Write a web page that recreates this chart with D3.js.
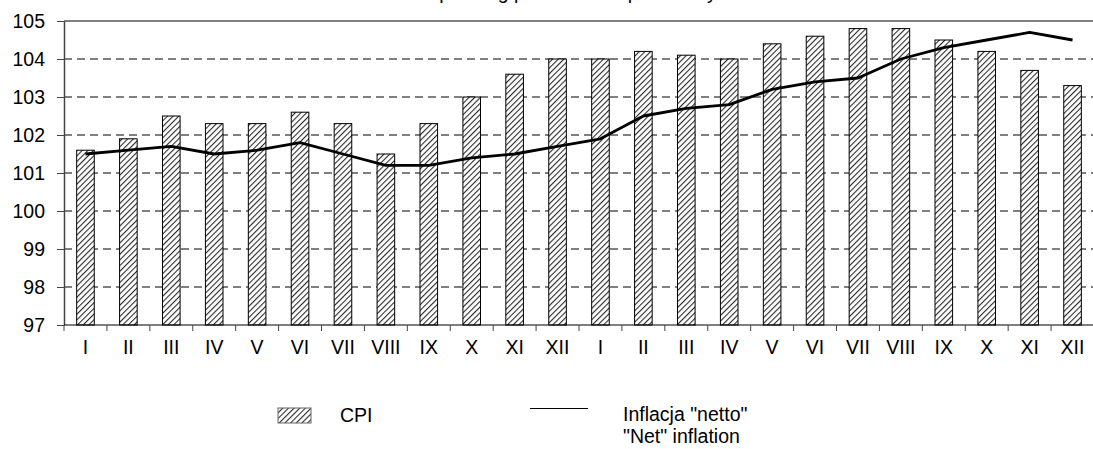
<!DOCTYPE html>
<html>
<head>
<meta charset="utf-8">
<script src="https://cdn.jsdelivr.net/npm/d3@7"></script>
<style>
  html, body { margin: 0; padding: 0; background: #fff; }
  svg { display: block; }
  text { font-family: "Liberation Sans", Arial, sans-serif; fill: #000; }
</style>
</head>
<body>
<svg id="chart" width="1093" height="449"></svg>
<script>
const months = ["I","II","III","IV","V","VI","VII","VIII","IX","X","XI","XII",
                "I","II","III","IV","V","VI","VII","VIII","IX","X","XI","XII"];
const cpi = [101.6, 101.9, 102.5, 102.3, 102.3, 102.6, 102.3, 101.5, 102.3, 103.0, 103.6, 104.0,
             104.0, 104.2, 104.1, 104.0, 104.4, 104.6, 104.8, 104.8, 104.5, 104.2, 103.7, 103.3];
const netInflation = [101.5, 101.6, 101.7, 101.5, 101.6, 101.8, 101.5, 101.2, 101.2, 101.4, 101.5, 101.7,
                      101.9, 102.5, 102.7, 102.8, 103.2, 103.4, 103.5, 104.0, 104.3, 104.5, 104.7, 104.5];
const yTicks = [97, 98, 99, 100, 101, 102, 103, 104, 105];
const titleText = "corresponding period of the previous year = 100";
const legendCPI = "CPI";
const legendNet = ["Inflacja \"netto\"", "\"Net\" inflation"];

const FS = 19.5;
const svg = d3.select("#chart");
const mLeft = 64, mRight = 1094, mTop = 21, mBottom = 325;
const idx = months.map((d, i) => i);

const x = d3.scaleBand().domain(idx).range([mLeft, mRight]).paddingInner(0).paddingOuter(0);
const y = d3.scaleLinear().domain([97, 105]).range([mBottom, mTop]);

// hatch pattern
const defs = svg.append("defs");
const pat = defs.append("pattern")
  .attr("id", "hatch").attr("patternUnits", "userSpaceOnUse")
  .attr("width", 4).attr("height", 4)
  .attr("patternTransform", "rotate(45)");
pat.append("rect").attr("width", 4).attr("height", 4).attr("fill", "#fff");
pat.append("line").attr("x1", 0).attr("y1", 0).attr("x2", 0).attr("y2", 4)
  .attr("stroke", "#2a2a2a").attr("stroke-width", 2.2);

// title (mostly cut off at top, as in the original)
svg.append("text").attr("x", 385).attr("y", -1).attr("font-size", FS).text(titleText);

// gridlines
svg.append("g").selectAll("line").data(yTicks.filter(v => v > 97))
  .join("line")
  .attr("x1", mLeft).attr("x2", mRight)
  .attr("y1", d => y(d)).attr("y2", d => y(d))
  .attr("stroke", "#000").attr("stroke-width", 1)
  .attr("stroke-dasharray", d => d === 105 ? null : "8,5");

// bars
const bw = x.bandwidth() * 0.41;
svg.append("g").selectAll("rect").data(cpi)
  .join("rect")
  .attr("x", (d, i) => x(i) + (x.bandwidth() - bw) / 2)
  .attr("y", d => y(d))
  .attr("width", bw)
  .attr("height", d => y(97) - y(d))
  .attr("fill", "url(#hatch)")
  .attr("stroke", "#000").attr("stroke-width", 1);

// y axis
const yAxis = d3.axisLeft(y).tickValues(yTicks).tickSize(7).tickSizeOuter(0).tickFormat(d3.format("d"));
const gy = svg.append("g").attr("transform", `translate(${mLeft},0)`).call(yAxis);
gy.select(".domain").attr("stroke", "#444").attr("stroke-width", 1.5);
gy.selectAll(".tick line").attr("stroke", "#444");
gy.selectAll("text").attr("font-size", FS).attr("font-family", "Liberation Sans, Arial, sans-serif")
  .attr("x", -19).attr("dy", "0.35em");

// x axis
const gx = svg.append("g").attr("transform", `translate(0,${mBottom})`);
gx.append("line").attr("x1", mLeft).attr("x2", mRight).attr("y1", 0).attr("y2", 0)
  .attr("stroke", "#000").attr("stroke-width", 1.2);
gx.selectAll("line.tk").data(idx.concat([24])).join("line").attr("class", "tk")
  .attr("x1", d => d < 24 ? x(d) : mRight).attr("x2", d => d < 24 ? x(d) : mRight)
  .attr("y1", 0).attr("y2", 6).attr("stroke", "#444");
gx.selectAll("text").data(months).join("text")
  .attr("x", (d, i) => x(i) + x.bandwidth() / 2)
  .attr("y", 29).attr("text-anchor", "middle").attr("font-size", FS)
  .text(d => d);

// net inflation line
const line = d3.line().x((d, i) => x(i) + x.bandwidth() / 2).y(d => y(d));
svg.append("path").datum(netInflation)
  .attr("d", line).attr("fill", "none").attr("stroke", "#000")
  .attr("stroke-width", 2.8).attr("stroke-linejoin", "round");

// legend
const lg = svg.append("g");
lg.append("rect").attr("x", 278).attr("y", 408).attr("width", 33).attr("height", 15)
  .attr("fill", "url(#hatch)").attr("stroke", "#666").attr("stroke-width", 1);
lg.append("text").attr("x", 340).attr("y", 422).attr("font-size", FS).text(legendCPI);
lg.append("line").attr("x1", 530).attr("x2", 588).attr("y1", 408.5).attr("y2", 408.5)
  .attr("stroke", "#000").attr("stroke-width", 1.2);
lg.append("text").attr("x", 623).attr("y", 421).attr("font-size", FS).text(legendNet[0]);
lg.append("text").attr("x", 623).attr("y", 443).attr("font-size", FS).text(legendNet[1]);
</script>
</body>
</html>
